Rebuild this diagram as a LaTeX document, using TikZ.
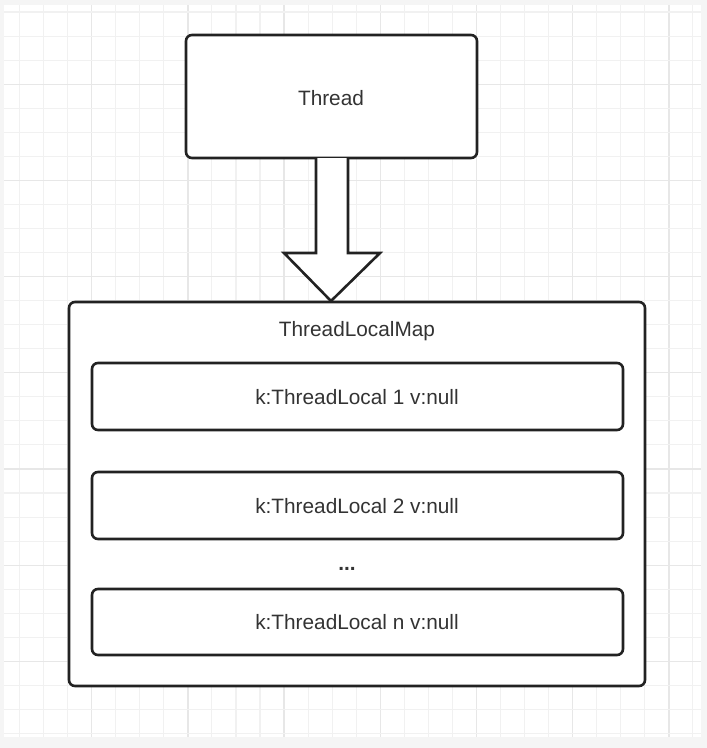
\documentclass[tikz,border=0pt]{standalone}
\usepackage{fontspec}
\setmainfont{Liberation Sans}
\definecolor{bgout}{HTML}{F5F5F5}
\definecolor{gridminor}{HTML}{F1F1F1}
\definecolor{gridmajor}{HTML}{E7E7E7}
\definecolor{ink}{HTML}{222222}
\definecolor{txt}{HTML}{333333}
\tikzset{
  box/.style={draw=ink, line width=2.6pt, rounded corners=6pt, fill=white},
  lbl/.style={text=txt, font=\fontsize{20.8}{24}\selectfont, inner sep=0pt},
}
\begin{document}
\begin{tikzpicture}[x=1pt,y=-1pt]
\useasboundingbox (0,0) rectangle (707,748);
\fill[bgout] (0,0) rectangle (707,748);
\fill[white] (4,5) rectangle (701,737);
% grid
\foreach \k in {0,...,28}{
  \pgfmathsetmacro{\xx}{19.5+24.05*\k}
  \pgfmathtruncatemacro{\m}{mod(\k+1,4)}
  \ifnum\m=0
    \draw[gridmajor, line width=1.3pt] (\xx,5) -- (\xx,737);
  \else
    \draw[gridminor, line width=1.1pt] (\xx,5) -- (\xx,737);
  \fi
}
\foreach \k in {0,...,30}{
  \pgfmathsetmacro{\yy}{12+24.05*\k}
  \pgfmathtruncatemacro{\m}{mod(\k+1,4)}
  \ifnum\m=0
    \draw[gridmajor, line width=1.3pt] (4,\yy) -- (701,\yy);
  \else
    \draw[gridminor, line width=1.1pt] (4,\yy) -- (701,\yy);
  \fi
}
% Thread box
\draw[box] (186,35) rectangle (477,158);
\node[lbl] (thread) at (331,98) {Thread};
% block arrow
\coordinate (a1) at (316,158);
\coordinate (a2) at (348,158);
\coordinate (tip) at (331,301);
\draw[draw=ink, line width=2.6pt, fill=white, line join=miter]
  (a1) -- (316,253) -- (284,253) -- (tip) -- (380,253) -- (348,253) -- (a2);
% Map box
\draw[box] (69,302) rectangle (645,686);
\node[lbl] (map) at (357,331) {ThreadLocalMap};
% entries
\draw[box] (92,363) rectangle (623,430);
\node[lbl] (e1) at (357,397) {k:ThreadLocal 1 v:null};
\draw[box] (92,472) rectangle (623,539);
\node[lbl] (e2) at (357,506) {k:ThreadLocal 2 v:null};
\node[lbl, font=\bfseries\fontsize{20.8}{24}\selectfont] (dots) at (347,569) {...};
\draw[box] (92,589) rectangle (623,655);
\node[lbl] (e3) at (357,622) {k:ThreadLocal n v:null};
\end{tikzpicture}
\end{document}
